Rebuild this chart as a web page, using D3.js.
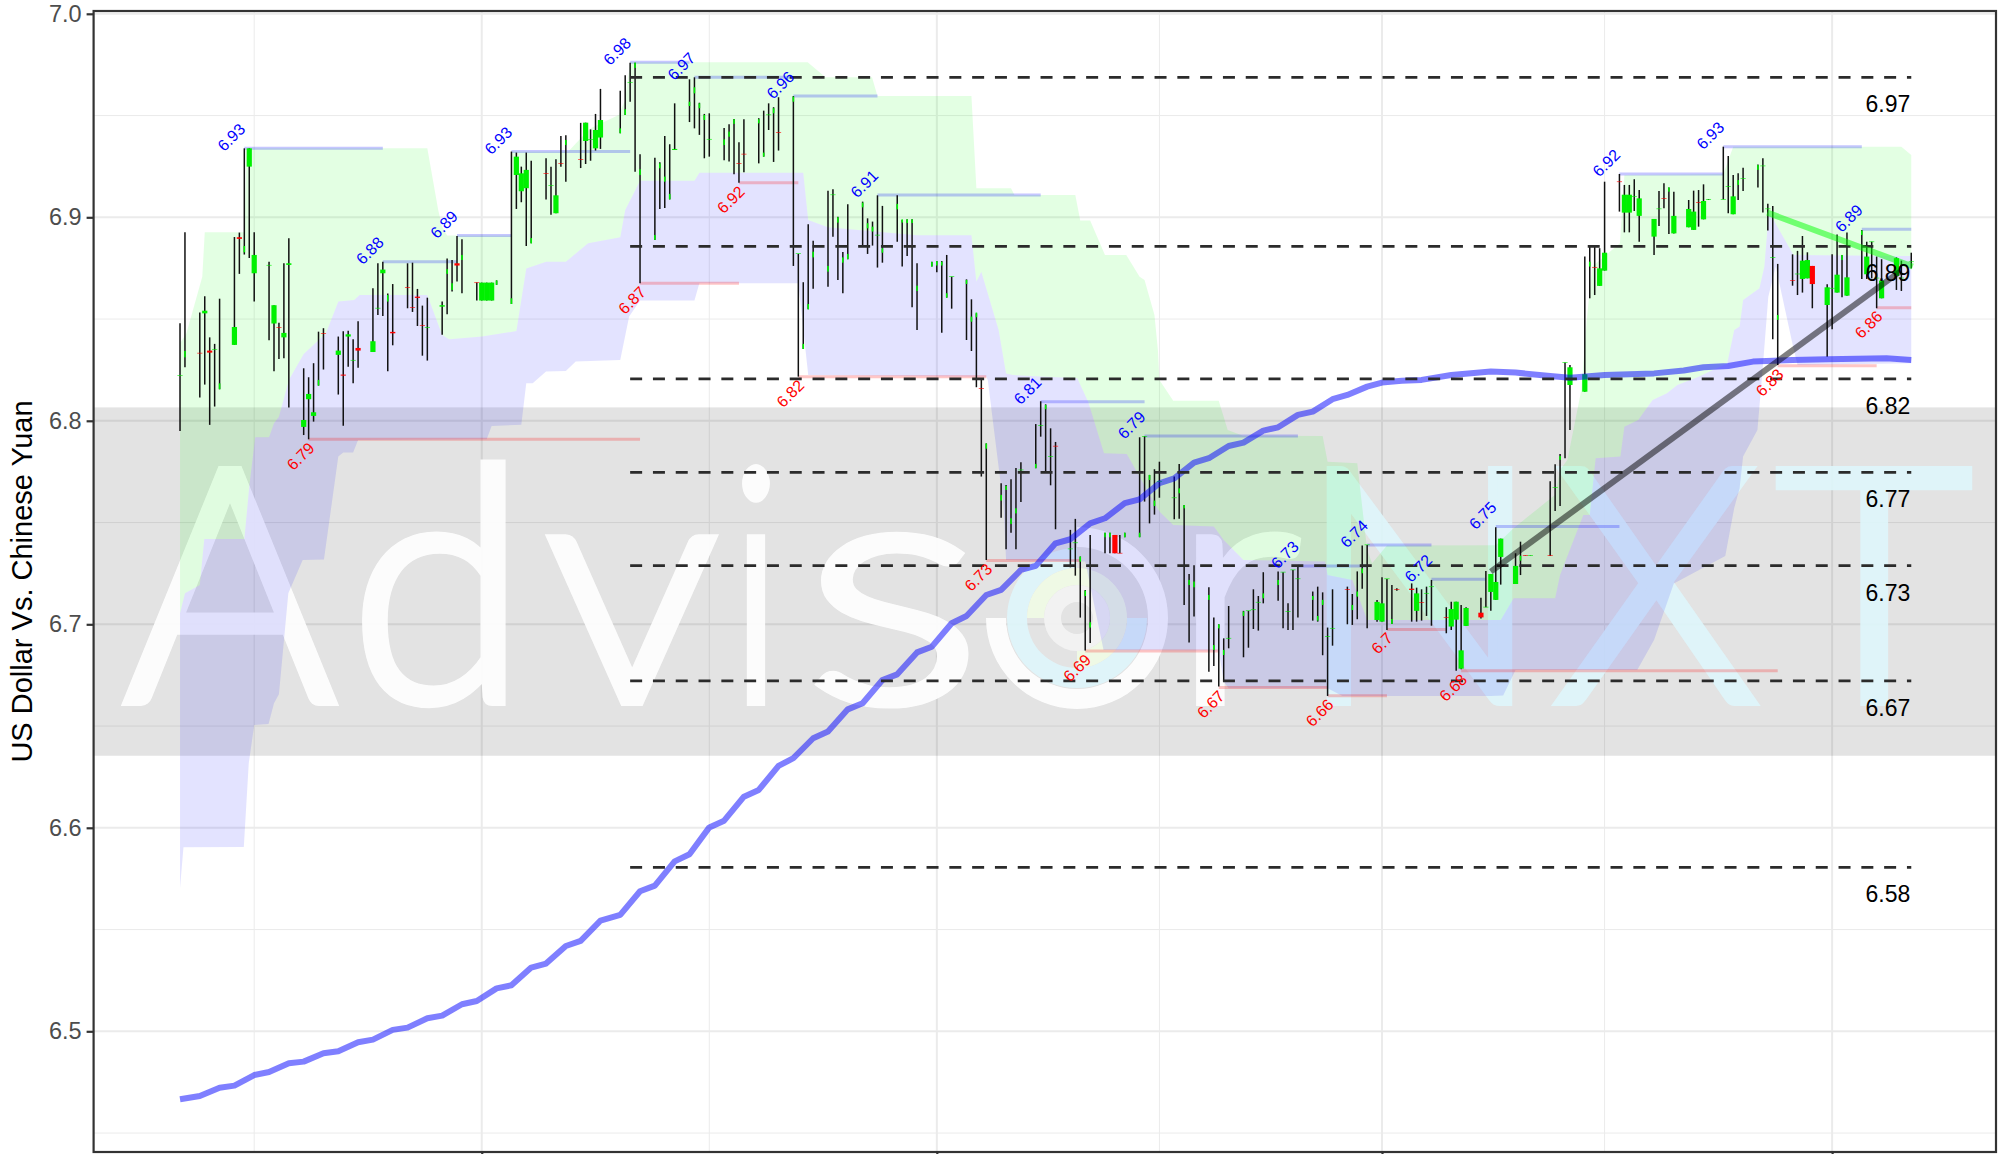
<!DOCTYPE html>
<html>
<head>
<meta charset="utf-8">
<script src="https://cdn.jsdelivr.net/npm/d3@7"></script>
<style>
html, body { margin: 0; padding: 0; background: #fff; overflow: hidden; }
</style>
</head>
<body>
<div id="chart"></div>
<script>
// all series are keyed on "days after 2018-08-01"
var startDate = new Date(2018, 7, 1);

var candleDays = [
  0,1,4,5,6,7,8,11,12,13,14,15,18,19,20,21,22,25,26,27,28,29,32,33,34,35,36,
  39,40,41,42,43,46,47,48,49,50,53,54,55,56,57,60,61,62,63,64,67,68,69,70,71,
  74,75,76,77,78,81,82,83,84,85,89,90,91,92,93,96,97,98,99,100,103,104,105,106,107,
  110,111,112,113,114,117,118,119,120,121,124,125,126,127,128,131,132,133,134,135,138,139,140,141,142,
  145,146,147,148,149,152,153,154,155,156,159,160,161,162,163,166,167,168,169,170,173,174,175,176,177,
  180,181,182,183,184,187,188,189,190,191,194,195,196,197,198,201,202,203,204,205,208,209,210,211,212,
  215,216,217,218,219,222,223,224,225,226,229,230,231,232,233,236,237,238,239,240,242,243,244,245,246,
  249,250,251,252,253,256,257,258,259,260,263,264,265,266,267,270,271,272,273,277,278,279,280,281,
  284,285,286,287,288,291,292,293,294,295,298,299,300,301,302,305,306,307,308,309,312,313,314,315,316,
  319,320,321,322,323,326,327,328,329,330,333,334,335,336,337,340,341,342,343,344,347,348,350
];
var candleHighs = [
  6.8479,6.8926,6.8532,6.8612,6.8410,6.8378,6.8600,6.8903,6.8925,6.9339,6.9339,6.8926,6.8781,6.8568,6.8482,6.8774,6.8897,6.8258,6.8214,6.8283,6.8438,6.8455,6.8414,6.8440,6.8443,6.8401,6.8489,
  6.8651,6.8774,6.8782,6.8625,6.8672,6.8774,6.8777,6.8648,6.8566,6.8605,6.8586,6.8797,6.8790,6.8908,6.8892,6.8679,6.8679,6.8679,6.8679,6.8690,6.9323,6.9318,6.9249,6.9318,6.9278,
  6.9290,6.9249,6.9285,6.9400,6.9403,6.9464,6.9465,6.9432,6.9508,6.9631,6.9622,6.9698,6.9760,6.9760,6.9310,6.9293,6.9270,6.9400,6.9359,6.9560,6.9678,6.9688,6.9563,6.9508,6.9511,
  6.9439,6.9457,6.9483,6.9369,6.9482,6.9487,6.9524,6.9560,6.9541,6.9590,6.9596,6.8820,6.8681,6.8966,6.8885,6.9131,6.9138,6.9003,6.8830,6.9064,6.9077,6.8995,6.8979,6.9108,6.9056,
  6.9108,6.8987,6.8990,6.8990,6.8774,6.8781,6.8785,6.8785,6.8815,6.8708,6.8695,6.8597,6.8528,6.8206,6.7889,6.7693,6.7685,6.7713,6.7768,6.7796,6.7984,6.8096,6.8081,6.7963,6.7896,
  6.7464,6.7518,6.7333,6.7169,6.7439,6.7450,6.7450,6.7439,6.7439,6.7450,6.7919,6.7925,6.7734,6.7762,6.7799,6.7726,6.7788,6.7586,6.7247,6.7290,6.7182,6.7034,6.7000,6.6931,6.7090,
  6.7066,6.7066,6.7172,6.7139,6.7256,6.7259,6.7256,6.7103,6.7267,6.7283,6.7161,6.7185,6.7157,6.6984,6.7172,6.7185,6.7149,6.7260,6.7387,6.7390,6.7120,6.7231,6.7223,6.7193,6.7177,
  6.7201,6.7180,6.7172,6.7185,6.7218,6.7084,6.7111,6.7111,6.7095,6.7084,6.7131,6.7262,6.7247,6.7477,6.7421,6.7349,6.7406,6.7340,6.7340,6.7703,6.7786,6.7837,6.8287,6.8274,
  6.8807,6.8861,6.8856,6.8848,6.9175,6.9213,6.9159,6.9159,6.9187,6.9134,6.8992,6.9129,6.9167,6.9147,6.9126,6.9085,6.9131,6.9134,6.9162,6.9090,6.9347,6.9301,6.9208,6.9216,6.9244,
  6.9260,6.9290,6.9066,6.9056,6.8771,6.8818,6.8835,6.8908,6.8828,6.8761,6.8671,6.8818,6.8916,6.8815,6.8925,6.8938,6.8880,6.8880,6.8807,6.8794,6.8803,6.8787,6.8826
];
var candleLows = [
  6.7950,6.8263,6.8114,6.8178,6.7980,6.8070,6.8155,6.8373,6.8722,6.8817,6.8800,6.8586,6.8396,6.8243,6.8304,6.8307,6.8065,6.7930,6.7909,6.7996,6.8173,6.8252,6.8129,6.7976,6.8266,6.8184,6.8261,
  6.8338,6.8520,6.8515,6.8243,6.8371,6.8553,6.8535,6.8466,6.8320,6.8296,6.8423,6.8523,6.8635,6.8684,6.8627,6.8591,6.8591,6.8591,6.8591,6.8668,6.8574,6.9041,6.9074,6.8859,6.8872,
  6.9088,6.9013,6.9020,6.9249,6.9175,6.9242,6.9262,6.9278,6.9328,6.9336,6.9413,6.9503,6.9568,6.9224,6.8676,6.8889,6.9041,6.9046,6.9088,6.9331,6.9468,6.9437,6.9405,6.9290,6.9298,
  6.9280,6.9274,6.9211,6.9170,6.9221,6.9265,6.9298,6.9429,6.9272,6.9328,6.8761,6.8217,6.8353,6.8548,6.8649,6.8659,6.8905,6.8692,6.8627,6.8794,6.8859,6.8820,6.8861,6.8753,6.8777,
  6.8880,6.8758,6.8810,6.8558,6.8446,6.8758,6.8730,6.8433,6.8605,6.8551,6.8397,6.8343,6.8165,6.7726,6.7316,6.7524,6.7369,6.7450,6.7369,6.7601,6.7767,6.7922,6.7753,6.7683,6.7467,
  6.7280,6.7239,6.7033,6.6871,6.6908,6.7349,6.7349,6.7349,6.7349,6.7428,6.7428,6.7603,6.7496,6.7539,6.7622,6.7516,6.7519,6.7095,6.6910,6.7038,6.6767,6.6795,6.6694,6.6718,6.6882,
  6.6838,6.6885,6.6977,6.6969,6.7103,6.7116,6.6980,6.6972,6.6972,6.7034,6.7018,6.7013,6.6848,6.6648,6.6895,6.7000,6.6997,6.7025,6.7175,6.6980,6.7013,6.7013,6.6972,6.7002,6.7165,
  6.7013,6.7013,6.7018,6.7041,6.6993,6.6956,6.6972,6.6772,6.6779,6.6992,6.7029,6.7084,6.7067,6.7120,6.7195,6.7198,6.7242,6.7338,6.7338,6.7336,6.7557,6.7581,6.7816,6.7955,
  6.8143,6.8602,6.8618,6.8663,6.8738,6.9028,6.8926,6.8926,6.9031,6.8880,6.8815,6.8957,6.9044,6.8918,6.8921,6.8951,6.8938,6.8954,6.8990,6.9086,6.9088,6.9020,6.9015,6.9085,6.9129,
  6.9147,6.9023,6.8935,6.8401,6.8274,6.8664,6.8618,6.8630,6.8700,6.8553,6.8315,6.8450,6.8630,6.8607,6.8615,6.8697,6.8697,6.8700,6.8553,6.8602,6.8643,6.8638,6.8749
];
var candleOpens = [
  6.8222,6.8312,6.8334,6.8528,6.8345,6.8350,6.8155,6.8373,6.8902,6.8828,6.9249,6.8725,6.8763,6.8478,6.8459,6.8410,6.8766,6.7970,6.8106,6.8024,6.8173,6.8431,6.8324,6.8227,6.8414,6.8296,6.8358,
  6.8338,6.8552,6.8725,6.8586,6.8437,6.8657,6.8559,6.8610,6.8470,6.8458,6.8561,6.8722,6.8643,6.8774,6.8790,6.8680,6.8591,6.8591,6.8591,6.8668,6.8574,6.9208,6.9128,6.9143,6.8872,
  6.9216,6.9155,6.9020,6.9266,6.9355,6.9286,6.9375,6.9380,6.9339,6.9392,6.9413,6.9503,6.9662,6.9734,6.9208,6.8889,6.9241,6.9175,6.9088,6.9331,6.9547,6.9609,6.9536,6.9478,6.9382,
  6.9355,6.9396,6.9459,6.9266,6.9312,6.9462,6.9298,6.9502,6.9511,6.9419,6.9568,6.8821,6.8353,6.8548,6.8803,6.8733,6.9109,6.8974,6.8777,6.8794,6.9049,6.8946,6.8930,6.8911,6.8826,
  6.9039,6.8974,6.8972,6.8972,6.8638,6.8758,6.8763,6.8763,6.8605,6.8707,6.8672,6.8487,6.8509,6.8161,6.7863,6.7608,6.7660,6.7493,6.7545,6.7757,6.7767,6.7975,6.8057,6.7823,6.7877,
  6.7369,6.7399,6.7308,6.7139,6.6984,6.7428,6.7428,6.7439,6.7351,6.7428,6.7428,6.7922,6.7709,6.7581,6.7700,6.7620,6.7644,6.7570,6.7193,6.7182,6.7120,6.6874,6.6980,6.6849,6.6930,
  6.7041,6.7065,6.7070,6.7107,6.7128,6.7193,6.7255,6.7061,6.7266,6.7222,6.7120,6.7018,6.7095,6.6938,6.6979,6.7173,6.7070,6.7136,6.7251,6.7389,6.7021,6.7013,6.7222,6.7002,6.7172,
  6.7175,6.7066,6.7109,6.7151,6.7183,6.7035,6.6989,6.7023,6.6782,6.6992,6.7057,6.7083,6.7159,6.7120,6.7331,6.7198,6.7313,6.7340,6.7337,6.7340,6.7670,6.7808,6.8285,6.8176,
  6.8143,6.8758,6.8754,6.8663,6.8738,6.9176,6.9023,6.9023,6.9100,6.9007,6.8905,6.9040,6.9094,6.9126,6.8921,6.8951,6.8938,6.9075,6.8990,6.9087,6.9087,6.9150,6.9015,6.9159,6.9190,
  6.9233,6.9251,6.9040,6.8800,6.8496,6.8690,6.8720,6.8697,6.8700,6.8761,6.8569,6.8650,6.8630,6.8790,6.8615,6.8913,6.8720,6.8878,6.8700,6.8602,6.8712,6.8700,6.8780
];
var candleCloses = [
  6.8225,6.8343,6.8331,6.8541,6.8335,6.8353,6.8184,6.8461,6.8894,6.8859,6.9339,6.8815,6.8766,6.8568,6.8456,6.8432,6.8774,6.8004,6.8132,6.8042,6.8201,6.8428,6.8345,6.8222,6.8425,6.8299,6.8345,
  6.8391,6.8555,6.8743,6.8618,6.8430,6.8654,6.8556,6.8604,6.8467,6.8461,6.8568,6.8745,6.8676,6.8763,6.8815,6.8677,6.8679,6.8679,6.8679,6.8690,6.8602,6.9298,6.9216,6.9233,6.8898,
  6.9213,6.9158,6.9108,6.9263,6.9380,6.9283,6.9465,6.9383,6.9429,6.9478,6.9437,6.9531,6.9665,6.9760,6.9236,6.8913,6.9265,6.9200,6.9115,6.9336,6.9568,6.9639,6.9560,6.9503,6.9385,
  6.9383,6.9421,6.9482,6.9263,6.9309,6.9482,6.9318,6.9505,6.9536,6.9416,6.9593,6.8824,6.8378,6.8574,6.8831,6.8761,6.9112,6.9000,6.8803,6.8820,6.9072,6.8971,6.8954,6.8914,6.8848,
  6.9066,6.8990,6.8990,6.8990,6.8664,6.8781,6.8785,6.8782,6.8627,6.8710,6.8692,6.8512,6.8532,6.8158,6.7889,6.7636,6.7680,6.7521,6.7570,6.7760,6.7788,6.7978,6.8078,6.7826,6.7874,
  6.7372,6.7402,6.7333,6.7165,6.7010,6.7450,6.7450,6.7349,6.7348,6.7450,6.7450,6.7925,6.7734,6.7608,6.7703,6.7623,6.7668,6.7586,6.7218,6.7210,6.7144,6.6898,6.7000,6.6874,6.6933,
  6.7063,6.7068,6.7073,6.7110,6.7152,6.7218,6.7258,6.7064,6.7269,6.7225,6.7139,6.7041,6.7120,6.6941,6.6982,6.7170,6.7095,6.7161,6.7275,6.7392,6.7110,6.7103,6.7225,6.7026,6.7169,
  6.7169,6.7152,6.7106,6.7154,6.7186,6.7032,6.7075,6.7111,6.6872,6.7080,6.7034,6.7086,6.7247,6.7208,6.7421,6.7287,6.7337,6.7337,6.7340,6.7337,6.7673,6.7827,6.8288,6.8263,
  6.8229,6.8782,6.8751,6.8749,6.8826,6.9173,6.9111,6.9111,6.9103,6.9093,6.8992,6.9043,6.9091,6.9147,6.9007,6.9041,6.9028,6.9072,6.9080,6.9090,6.9090,6.9153,6.9103,6.9183,6.9193,
  6.9257,6.9254,6.9043,6.8803,6.8520,6.8687,6.8723,6.8787,6.8790,6.8672,6.8656,6.8653,6.8718,6.8815,6.8705,6.8935,6.8807,6.8881,6.8703,6.8689,6.8799,6.8703,6.8783
];
// candles whose body was plotted as a thin sliver on the wick
var narrowDays = [1,8,13,28,42,54,55,57,64,67,71,78,89,90,92,93,96,97,98,99,103,104,105,106,110,111,112,117,118,120,124,126,127,128,131,133,134,135,138,139,140,142,145,146,147,148,149,152,153,154,155,159,160,161,163,166,167,168,169,173,175,182,183,184,187,188,191,194,196,197,202,203,204,205,208,209,210,211,215,219,222,229,230,231,237,238,239,245,271,279,285,301,315,319,323,336,340];

var smaDays = [0,4,8,11,15,18,22,25,29,32,36,39,43,46,50,53,57,60,64,67,71,74,78,81,85,89,93,96,100,103,107,110,114,117,121,124,128,131,135,138,142,145,149,152,156,159,163,166,170,173,177,180,184,187,191,194,198,201,205,208,212,215,219,222,226,229,233,236,240,243,247,251,257,265,270,277,281,288,298,304,308,313,318,326,333,345,350];
var smaValues = [6.4666,6.4682,6.4723,6.4733,6.4785,6.4800,6.4843,6.4851,6.4892,6.4902,6.4946,6.4959,6.5007,6.5018,6.5064,6.5077,6.5133,6.5149,6.5211,6.5226,6.5313,6.5333,6.5419,6.5444,6.5544,6.5572,6.5688,6.5716,6.5835,6.5870,6.6002,6.6035,6.6153,6.6186,6.6304,6.6342,6.6440,6.6473,6.6582,6.6612,6.6726,6.6754,6.6862,6.6890,6.7005,6.7041,6.7144,6.7169,6.7267,6.7287,6.7398,6.7418,6.7496,6.7521,6.7595,6.7614,6.7693,6.7717,6.7794,6.7816,6.7876,6.7893,6.7952,6.7968,6.8029,6.8045,6.8106,6.8127,6.8168,6.8188,6.8197,6.8201,6.8225,6.8242,6.8237,6.8220,6.8212,6.8225,6.8233,6.8247,6.8263,6.8269,6.8291,6.8299,6.8302,6.8307,6.8299];

var upperDays = [0,1.3,4.5,5,13,13.5,50,52.2,53,54,67,67.05,78.5,81,83,88.7,90,91,126.9,130.5,139.9,141,160,161,168,168.7,181,182,184,187,191.3,194,195,197,197.7,198,200.8,210,211.8,214.9,231,232,238,240,241,244,266,269.6,278,279,280.5,283.3,284.4,285.5,291.1,292,312,314,348,350];
var upperValues = [6.8381,6.8430,6.8708,6.8926,6.8926,6.9339,6.9339,6.9036,6.8954,6.8910,6.8910,6.9323,6.9323,6.9388,6.9437,6.9503,6.9577,6.9762,6.9762,6.9688,6.9688,6.9596,6.9596,6.9143,6.9143,6.9110,6.9110,6.8984,6.8984,6.8815,6.8815,6.8708,6.8692,6.8520,6.8348,6.8201,6.8098,6.8098,6.7955,6.7927,6.7925,6.7799,6.7791,6.7365,6.7300,6.7387,6.7388,6.7472,6.7636,6.7758,6.7808,6.8152,6.8496,6.8758,6.8872,6.9208,6.9213,6.9347,6.9347,6.9306];
var midDays = [0,1,4,4.9,13,14,15.2,18,19,20,22,25,29.5,32,35.2,36.3,50,53,54.4,61,68,70,74,78,82.5,89,90,93,104,105,126,127,131,149,160,161,162,165.5,167,168.4,181.4,183.6,186.8,191.4,198,200.8,209,211,215,231.5,232,237,240,267,269.6,278,279,283.7,285,286.2,291.2,292,294.8,297.7,300.6,302.7,307,312.8,314.2,315.3,316,319.3,320.3,321.2,326.2,350];
var midValues = [6.7054,6.7152,6.7193,6.7419,6.7419,6.7677,6.7919,6.7919,6.7988,6.8020,6.8201,6.8328,6.8430,6.8586,6.8594,6.8618,6.8618,6.8422,6.8401,6.8414,6.8441,6.8749,6.8782,6.8782,6.8872,6.8902,6.9036,6.9179,6.9179,6.9219,6.9219,6.8987,6.8951,6.8912,6.8912,6.8684,6.8733,6.8446,6.8233,6.8225,6.8209,6.8094,6.7840,6.7837,6.7554,6.7488,6.7480,6.7414,6.7316,6.7308,6.7242,6.7218,6.7021,6.7021,6.7128,6.7128,6.7242,6.7537,6.7537,6.7816,6.7824,6.7971,6.8004,6.8102,6.8135,6.8176,6.8217,6.8283,6.8446,6.8463,6.8594,6.8651,6.8758,6.9028,6.8815,6.8810];
var lowerDays = [0,0.7,12.9,13.9,15,17.9,19,20,21.9,24.8,29.1,32,33,35,36,62,63,69,70,71.3,74,78,80,89,90.8,93,104,105,125,127,163,163.3,166.5,167,183,186.7,210,211,212,232,235,265,267.5,270,294.6,298,302,312.4,314.2,315.3,316,318.9,319.6,320.1,321.1,322.6,326.1,327,350];
var lowerValues = [6.5703,6.5904,6.5906,6.6317,6.6505,6.6510,6.6612,6.6656,6.7152,6.7316,6.7319,6.7824,6.7844,6.7844,6.7906,6.7909,6.7975,6.7980,6.8184,6.8184,6.8242,6.8245,6.8291,6.8299,6.8512,6.8591,6.8591,6.8676,6.8676,6.8225,6.8217,6.8201,6.7578,6.7316,6.7308,6.6874,6.6871,6.6718,6.6686,6.6686,6.6648,6.6648,6.6650,6.6776,6.6776,6.6923,6.7201,6.7336,6.7570,6.7668,6.7824,6.7955,6.8152,6.8299,6.8610,6.8758,6.8365,6.8274,6.8283];

var peakLabels = ["6.93","6.88","6.89","6.93","6.98","6.97","6.96","6.91","6.81","6.79","6.73","6.74","6.72","6.75","6.92","6.93","6.89"];
var peakValues = [6.9339,6.8782,6.8910,6.9323,6.9762,6.9688,6.9596,6.9110,6.8094,6.7925,6.7287,6.7390,6.7221,6.7480,6.9213,6.9347,6.8941];
var peakStart = [13,41,56,67,91,104,124,141,174,195,226,240,253,266,291,312,340];
var peakEnd = [41,56,67,91,103,124,141,174,195,226,240,253,264,291,312,340,350];

var troughLabels = ["6.79","6.87","6.92","6.82","6.73","6.69","6.67","6.66","6.7","6.68","6.83","6.86"];
var troughValues = [6.7909,6.8676,6.9170,6.8217,6.7314,6.6869,6.6690,6.6649,6.6975,6.6772,6.8271,6.8556];
var troughStart = [26,93,113,125,163,183,210,232,244,259,323,343];
var troughEnd = [93,113,125,163,182,210,232,244,256,323,343,350];

var levelValues = [6.9688,6.8857,6.8206,6.7747,6.7288,6.6722,6.5806];
var levelLabels = ["6.97","6.89","6.82","6.77","6.73","6.67","6.58"];
var levelStartDay = 91, levelEndDay = 350;

var grayBand = [6.6354,6.8066];
var upTrendDays = [265,347.7], upTrendValues = [6.7259,6.8733];
var downTrendDays = [320.9,350.3], downTrendValues = [6.9023,6.8758];

var yMajor = [6.5,6.6,6.7,6.8,6.9,7.0];
var yMinor = [6.45,6.55,6.65,6.75,6.85,6.95];
var xMajorDays = [61,153,243,334];
var xMinorDays = [15,107,198,288];

var width = 2007, height = 1154;
var panelLeft = 93.6, panelRight = 1996, panelTop = 11, panelBottom = 1152;

var dayToDate = function (d) {
    return new Date(+startDate + d * 864e5);
};

var x = d3.scaleTime()
    .domain([dayToDate(-17.47), dayToDate(367.13)])
    .range([panelLeft, panelRight]);
var y = d3.scaleLinear()
    .domain([6.5, 7.0])
    .range([1031.3, 13.8]);

var xd = function (d) { return x(dayToDate(d)); };

var svg = d3.select("#chart").append("svg")
    .attr("width", width)
    .attr("height", height)
    .style("display", "block")
    .style("font-family", "'Liberation Sans', Arial, sans-serif");

svg.append("rect").attr("width", width).attr("height", height).attr("fill", "#fff");

// grid
var grid = svg.append("g");
grid.selectAll(".hminor").data(yMinor).enter().append("line")
    .attr("x1", panelLeft).attr("x2", panelRight)
    .attr("y1", function (d) { return y(d); }).attr("y2", function (d) { return y(d); })
    .attr("stroke", "#ebebeb").attr("stroke-width", 1);
grid.selectAll(".vminor").data(xMinorDays).enter().append("line")
    .attr("y1", panelTop).attr("y2", panelBottom)
    .attr("x1", xd).attr("x2", xd)
    .attr("stroke", "#ebebeb").attr("stroke-width", 1);
grid.selectAll(".hmajor").data(yMajor).enter().append("line")
    .attr("x1", panelLeft).attr("x2", panelRight)
    .attr("y1", function (d) { return y(d); }).attr("y2", function (d) { return y(d); })
    .attr("stroke", "#ebebeb").attr("stroke-width", 2);
grid.selectAll(".vmajor").data(xMajorDays).enter().append("line")
    .attr("y1", panelTop).attr("y2", panelBottom)
    .attr("x1", xd).attr("x2", xd)
    .attr("stroke", "#ebebeb").attr("stroke-width", 2);

// grey band
svg.append("rect")
    .attr("x", panelLeft).attr("width", panelRight - panelLeft)
    .attr("y", y(grayBand[1])).attr("height", y(grayBand[0]) - y(grayBand[1]))
    .attr("fill", "#000").attr("opacity", 0.11);

// watermark, sits under the ribbons
var mark = svg.append("g").attr("opacity", 0.92);
var markBaseline = 701, markSize = 325;
var markLetters = [
    {t: "A", x0: 124, x1: 336, fill: "#fff"},
    {t: "d", x0: 350, x1: 527, fill: "#fff"},
    {t: "v", x0: 546, x1: 718, fill: "#fff"},
    {t: "i", x0: 730, x1: 782, fill: "#fff"},
    {t: "s", x0: 804, x1: 982, fill: "#fff"},
    {t: "r", x0: 1172, x1: 1300, fill: "#fff"},
    {t: "N", x0: 1298, x1: 1541, fill: "#dff6fb"},
    {t: "X", x0: 1554, x1: 1758, fill: "#dff6fb"},
    {t: "T", x0: 1776, x1: 1972, fill: "#dff6fb"}
];
mark.selectAll("text").data(markLetters).enter().append("text")
    .attr("x", function (d) { return d.x0; })
    .attr("y", markBaseline)
    .attr("textLength", function (d) { return d.x1 - d.x0; })
    .attr("lengthAdjust", "spacingAndGlyphs")
    .attr("font-family", "Lato, Roboto, sans-serif")
    .attr("font-weight", 300)
    .attr("font-size", markSize)
    .attr("fill", function (d) { return d.fill; })
    .attr("stroke", function (d) { return d.fill; })
    .attr("stroke-width", 10)
    .text(function (d) { return d.t; });

var rings = [
    {r0: 71, r1: 91, a0: 0, a1: 1.5 * Math.PI, fill: "#fff"},
    {r0: 50, r1: 70, a0: 0.5 * Math.PI, a1: 2 * Math.PI, fill: "#dff6fb"},
    {r0: 33, r1: 50, a0: 1.5 * Math.PI, a1: 3 * Math.PI, fill: "#f1fbe6"},
    {r0: 16, r1: 33, a0: 0, a1: 2 * Math.PI, fill: "#f4f4f4"}
];
var ringArc = d3.arc()
    .innerRadius(function (d) { return d.r0; })
    .outerRadius(function (d) { return d.r1; })
    .startAngle(function (d) { return d.a0; })
    .endAngle(function (d) { return d.a1; });
mark.append("g").attr("transform", "translate(1077,618)")
    .selectAll("path").data(rings).enter().append("path")
    .attr("d", ringArc)
    .attr("fill", function (d) { return d.fill; });

// ribbons share the mid line
var pointsOf = function (days, values) {
    return days.map(function (d, i) { return [d, values[i]]; });
};
var lineOf = d3.line()
    .x(function (p) { return xd(p[0]); })
    .y(function (p) { return y(p[1]); });

var upperPts = pointsOf(upperDays, upperValues);
var midPts = pointsOf(midDays, midValues);
var lowerPts = pointsOf(lowerDays, lowerValues);

svg.append("path")
    .attr("d", lineOf(upperPts.concat(midPts.slice().reverse())) + "Z")
    .attr("fill", "#00ff00").attr("opacity", 0.11);
svg.append("path")
    .attr("d", lineOf(midPts.concat(lowerPts.slice().reverse())) + "Z")
    .attr("fill", "#0000ff").attr("opacity", 0.11);

// peak and trough segments
var segments = function (cls, values, from, to, color) {
    svg.selectAll("." + cls).data(values).enter().append("line")
        .attr("class", cls)
        .attr("x1", function (d, i) { return xd(from[i]); })
        .attr("x2", function (d, i) { return xd(to[i]); })
        .attr("y1", function (d) { return y(d); })
        .attr("y2", function (d) { return y(d); })
        .attr("stroke", color).attr("stroke-width", 3).attr("opacity", 0.22);
};
segments("peakseg", peakValues, peakStart, peakEnd, "#0000ff");
segments("troughseg", troughValues, troughStart, troughEnd, "#ff0000");

// candles
var candles = candleDays.map(function (d, i) {
    return {day: d, high: candleHighs[i], low: candleLows[i], open: candleOpens[i], close: candleCloses[i],
        narrow: narrowDays.indexOf(d) >= 0};
});
var candleG = svg.append("g");
candleG.selectAll(".wick").data(candles).enter().append("line")
    .attr("class", "wick")
    .attr("x1", function (d) { return xd(d.day); })
    .attr("x2", function (d) { return xd(d.day); })
    .attr("y1", function (d) { return y(d.high); })
    .attr("y2", function (d) { return y(d.low); })
    .attr("stroke", "#111").attr("stroke-width", 1.5);
candleG.selectAll(".body").data(candles).enter().append("rect")
    .attr("class", "body")
    .attr("x", function (d) { return xd(d.day) - (d.narrow ? 0.8 : 2.6); })
    .attr("width", function (d) { return d.narrow ? 1.6 : 5.2; })
    .attr("y", function (d) { return y(Math.max(d.open, d.close)); })
    .attr("height", function (d) { return Math.abs(y(d.open) - y(d.close)); })
    .attr("fill", function (d) { return d.close >= d.open ? "#00f000" : "#ff0000"; });

// 200 day average
svg.append("path")
    .attr("d", lineOf(pointsOf(smaDays, smaValues)))
    .attr("fill", "none").attr("stroke", "#0000ff").attr("stroke-opacity", 0.5)
    .attr("stroke-width", 6).attr("stroke-linejoin", "round");

// horizontal dashed levels
svg.selectAll(".level").data(levelValues).enter().append("line")
    .attr("class", "level")
    .attr("x1", xd(levelStartDay)).attr("x2", xd(levelEndDay))
    .attr("y1", function (d) { return y(d); })
    .attr("y2", function (d) { return y(d); })
    .attr("stroke", "#2b2b2b").attr("stroke-width", 2.8)
    .attr("stroke-dasharray", "12,10.8");

// trend lines
svg.append("path")
    .attr("d", lineOf(pointsOf(upTrendDays, upTrendValues)))
    .attr("fill", "none").attr("stroke", "#000").attr("stroke-opacity", 0.5).attr("stroke-width", 6);
svg.append("path")
    .attr("d", lineOf(pointsOf(downTrendDays, downTrendValues)))
    .attr("fill", "none").attr("stroke", "#00ff00").attr("stroke-opacity", 0.5).attr("stroke-width", 6);

// labels
svg.selectAll(".levellab").data(levelValues).enter().append("text")
    .attr("class", "levellab")
    .attr("x", xd(levelEndDay) - 1)
    .attr("y", function (d) { return y(d) + 27; })
    .attr("text-anchor", "end")
    .attr("dominant-baseline", "central")
    .attr("font-size", 23)
    .attr("fill", "#000")
    .text(function (d, i) { return levelLabels[i]; });

var slanted = function (cls, labels, values, start, color, dx, dy) {
    svg.selectAll("." + cls).data(labels).enter().append("text")
        .attr("class", cls)
        .attr("transform", function (d, i) {
            return "translate(" + (xd(start[i]) + dx) + "," + (y(values[i]) + dy) + ") rotate(-45)";
        })
        .attr("text-anchor", "end")
        .attr("dominant-baseline", "central")
        .attr("font-size", 16)
        .attr("fill", color)
        .text(function (d) { return d; });
};
slanted("peaklab", peakLabels, peakValues, peakStart, "#0000ff", -2, -22);
slanted("troughlab", troughLabels, troughValues, troughStart, "#ff0000", 3, 6);

// panel border and axes
svg.append("rect")
    .attr("x", panelLeft).attr("y", panelTop)
    .attr("width", panelRight - panelLeft).attr("height", panelBottom - panelTop)
    .attr("fill", "none").attr("stroke", "#333").attr("stroke-width", 2.2);

var yAxis = d3.axisLeft(y).tickValues(yMajor).tickSize(7).tickPadding(5).tickFormat(d3.format(".1f"));
var yG = svg.append("g").attr("transform", "translate(" + panelLeft + ",0)").call(yAxis);
yG.select(".domain").remove();
yG.selectAll("line").attr("stroke", "#333").attr("stroke-width", 2.2);
yG.selectAll("text").attr("font-size", 23.5).attr("fill", "#4d4d4d")
    .style("font-family", "'Liberation Sans', Arial, sans-serif");

var xAxis = d3.axisBottom(x).tickValues(xMajorDays.map(dayToDate)).tickSize(7).tickFormat("");
var xG = svg.append("g").attr("transform", "translate(0," + panelBottom + ")").call(xAxis);
xG.select(".domain").remove();
xG.selectAll("line").attr("stroke", "#333").attr("stroke-width", 2.2);

svg.append("text")
    .attr("transform", "translate(22," + ((panelTop + panelBottom) / 2) + ") rotate(-90)")
    .attr("text-anchor", "middle")
    .attr("dominant-baseline", "central")
    .attr("font-size", 29)
    .attr("fill", "#000")
    .text("US Dollar Vs. Chinese Yuan");
</script>
</body>
</html>
